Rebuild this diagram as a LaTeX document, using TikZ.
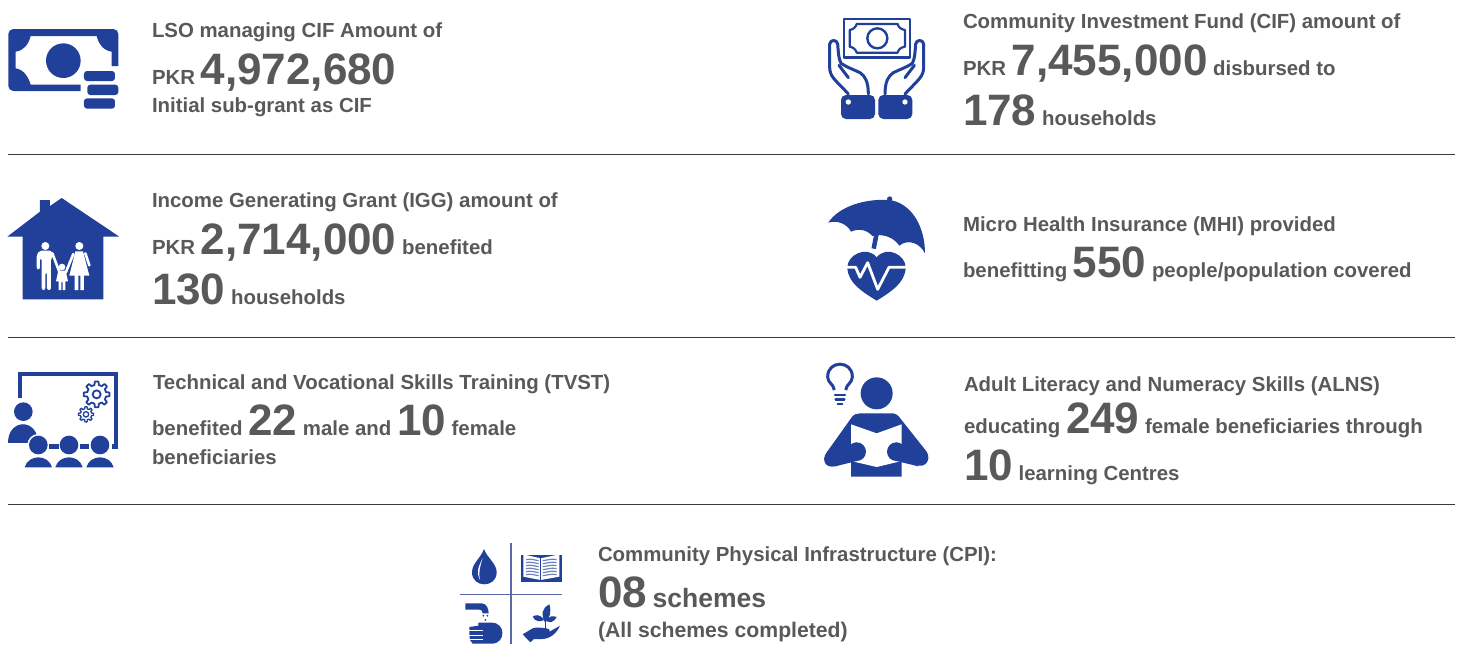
\documentclass[tikz,border=0pt]{standalone}
\usepackage{fontspec}
\setmainfont{Liberation Sans}[BoldFont={Liberation Sans Bold}]
\definecolor{iconblue}{HTML}{21409A}
\definecolor{txt}{HTML}{58595B}
\definecolor{rulegrey}{HTML}{3A3A3A}
\definecolor{gridblue}{HTML}{5A67A8}
\newcommand{\bg}[1]{{\fontsize{44}{45}\selectfont #1}}
\newcommand{\gearat}[6]{%
  \begin{scope}[shift={(#1,#2)}]
  \draw[iconblue,line width=#6,line join=round] (-13:#4) \foreach \a in {0,45,...,315}{ -- (\a-13:#4) -- (\a-8:#5) -- (\a+8:#5) -- (\a+13:#4)} -- cycle;
  \draw[iconblue,line width=#6] (0,0) circle[radius=#3];
  \end{scope}}
\tikzset{
  tl/.style={anchor=base west,inner sep=0pt,outer sep=0pt,text=txt,font=\bfseries\fontsize{20.4}{20}\selectfont},
  sep/.style={draw=rulegrey,line width=1pt},
  icon/.style 2 args={shift={(#1,#2)},x=.33333pt,y=-.33333pt},
  bl/.style={fill=iconblue,draw=none},
  wh/.style={fill=white,draw=none},
  ln/.style={draw=iconblue,line cap=round,line join=round},
  wl/.style={draw=white,line cap=round,line join=round},
}
\begin{document}
\begin{tikzpicture}[x=1pt,y=-1pt]
\path[use as bounding box,fill=white] (0,0) rectangle (1458,656);
% dividers
\draw[sep] (8,154.5) -- (1455,154.5);
\draw[sep] (8,337.5) -- (1455,337.5);
\draw[sep] (8,504) -- (1455,504);
% texts
\node[tl] (a1) at (152,37) {LSO managing CIF Amount of};
\node[tl] (a2) at (152,84) {PKR \bg{4,972,680}};
\node[tl] (a3) at (152,112) {Initial sub-grant as CIF};
\node[tl] (b1) at (963,28) {Community Investment Fund (CIF) amount of};
\node[tl] (b2) at (963,75) {PKR \bg{7,455,000} disbursed to};
\node[tl] (b3) at (963,125) {\bg{178} households};
\node[tl] (c1) at (152,207) {Income Generating Grant (IGG) amount of};
\node[tl] (c2) at (152,254) {PKR \bg{2,714,000} benefited};
\node[tl] (c3) at (152,304) {\bg{130} households};
\node[tl] (d1) at (963,231) {Micro Health Insurance (MHI) provided};
\node[tl] (d2) at (963,277) {benefitting \bg{550} people/population covered};
\node[tl] (e1) at (153,389) {Technical and Vocational Skills Training (TVST)};
\node[tl] (e2) at (152,435) {benefited \bg{22} male and \bg{10} female};
\node[tl] (e3) at (152,464) {beneficiaries};
\node[tl] (f1) at (964,391) {Adult Literacy and Numeracy Skills (ALNS)};
\node[tl] (f2) at (964,433) {educating \bg{249} female beneficiaries through};
\node[tl] (f3) at (964,480) {\bg{10} learning Centres};
\node[tl] (g1) at (598,561) {Community Physical Infrastructure (CPI):};
\node[tl] (g2) at (598,607) {\bg{08} {\fontsize{26.5}{26}\selectfont schemes}};
\node[tl] (g3) at (598,637) {\fontsize{21.2}{21}\selectfont (All schemes completed)};
% icon 1 money
\begin{scope}[icon={0}{10}]
\fill[bl] (40,57) -- (340,57) to[out=0,in=90] (355,72) -- (355,168) -- (335,168) -- (335,125)
  .. controls (310,122) and (295,100) .. (290,78) -- (92,78)
  .. controls (85,105) and (70,122) .. (47,125) -- (47,175)
  .. controls (70,178) and (85,200) .. (92,224) -- (242,224) -- (242,243) -- (40,243)
  to[out=180,in=-90] (25,228) -- (25,72) to[out=90,in=180] cycle;
\fill[bl] (190,152) circle[radius=52];
\fill[bl,rounded corners=3pt] (252,183) rectangle (345,213);
\fill[bl,rounded corners=3pt] (262,224) rectangle (355,255);
\fill[bl,rounded corners=3pt] (252,265) rectangle (345,296);
\end{scope}
% icon 2 hands
\begin{scope}[icon={815}{10}]
\draw[ln,line width=2.8pt] (87,27) rectangle (285,142);
\draw[ln,line width=2.2pt] (125,42) -- (248,42) .. controls (250,52) and (258,58) .. (270,60) -- (270,110) .. controls (258,112) and (250,118) .. (248,128) -- (125,128) .. controls (122,118) and (115,112) .. (104,110) -- (104,60) .. controls (115,58) and (122,52) .. (125,42) -- cycle;
\draw[ln,line width=2.4pt] (187,85) circle[radius=30];
\foreach \m/\s in {0/1,370/-1}{
\begin{scope}[shift={(\m,0)},xscale=\s]
\draw[ln,line width=3pt] (100,252) .. controls (85,235) and (70,222) .. (56,205) .. controls (48,195) and (44,185) .. (44,172) -- (44,102) .. controls (46,88) and (66,88) .. (68,102) .. controls (70,125) and (70,145) .. (78,160) .. controls (95,172) and (115,178) .. (135,188) .. controls (150,198) and (160,215) .. (160,252);
\draw[ln,line width=3pt] (72,166) -- (100,203);
\fill[bl,rounded corners=5pt] (78,255) rectangle (180,327);
\fill[wh] (100,276) circle[radius=8];
\end{scope}}
\end{scope}
% icon 3 house
\begin{scope}[icon={0}{190}]
\fill[bl] (22,140) -- (120,65) -- (120,30) -- (150,30) -- (150,48) -- (185,24) -- (358,140) -- (310,140) -- (310,328) -- (68,328) -- (68,140) -- cycle;
% man
\fill[wh] (136,168) circle[radius=12];
\fill[wh,rounded corners=2pt] (110,195) -- (118,182) -- (156,182) -- (160,195) -- (153,205) -- (153,300) -- (141,300) -- (141,248) -- (136,248) -- (136,300) -- (125,300) -- (125,205) -- (120,205) -- (120,238) -- (110,238) -- cycle;
\draw[wl,line width=2.6pt] (157,190) -- (179,248);
% woman
\fill[wh] (238,168) circle[radius=12];
\fill[wh] (226,184) -- (249,184) -- (268,257) -- (252,257) -- (252,300) -- (241,300) -- (241,257) -- (235,257) -- (235,300) -- (224,300) -- (224,257) -- (208,257) -- cycle;
\draw[wl,line width=2.6pt] (256,190) -- (268,226);
\draw[wl,line width=2.6pt] (220,192) -- (197,248);
% child
\fill[wh] (186,231) circle[radius=10];
\fill[wh] (175,242) -- (197,242) -- (204,274) -- (196,274) -- (196,300) -- (188,300) -- (188,276) -- (184,276) -- (184,300) -- (176,300) -- (176,274) -- (168,274) -- cycle;
\end{scope}
% icon 4 umbrella
\begin{scope}[icon={815}{190}]
\fill[bl] (224,27) circle[radius=8];
\fill[bl] (40,98) .. controls (70,50) and (150,25) .. (224,30) .. controls (290,40) and (330,110) .. (330,190)
  .. controls (315,160) and (280,145) .. (253,167)
  .. controls (235,140) and (200,130) .. (172,138)
  .. controls (155,118) and (130,115) .. (108,125)
  .. controls (95,100) and (65,90) .. (40,98) -- cycle;
\draw[ln,line width=4.5pt,line cap=butt] (186,125) -- (176,176);
\fill[bl] (185,332) .. controls (150,310) and (97,280) .. (97,232) .. controls (97,195) and (155,165) .. (185,202) .. controls (215,165) and (272,195) .. (272,232) .. controls (272,280) and (220,310) .. (185,332) -- cycle;
\draw[draw=white,line join=round,line width=2.8pt] (95,232) -- (122,232) -- (135,262) -- (158,218) -- (188,298) -- (222,232) -- (275,232);
\end{scope}
% icon 5 training
\begin{scope}[icon={0}{360}]
\draw[draw=iconblue,line width=4.3pt] (60,115) -- (60,42) -- (349,42) -- (349,267);
\fill[bl] (25,250) .. controls (25,175) and (115,175) .. (115,250) -- cycle;
\fill[bl] (70,155) circle[radius=28];
\fill[wh] (115,255) circle[radius=33];
\fill[bl] (147,252) rectangle (176,268);
\fill[bl] (240,252) rectangle (268,268);
\fill[wh] (300,255) circle[radius=33];
\fill[bl] (335,252) rectangle (345,268);
\foreach \c in {115,207,300}{
\fill[bl] (\c,255) circle[radius=28];
\fill[bl] (\c-41,322) .. controls (\c-30,282) and (\c+30,282) .. (\c+41,322) -- cycle;
}
\gearat{290}{103}{12}{29}{39}{1.8pt}
\gearat{258}{163}{8}{17}{23}{1.3pt}
\end{scope}
% icon 6 reader
\begin{scope}[icon={815}{355}]
\draw[ln,line width=3pt,line cap=butt] (58,105) .. controls (55,85) and (38,85) .. (38,65) .. controls (38,15) and (112,15) .. (112,65) .. controls (112,85) and (95,85) .. (92,105);
\draw[draw=iconblue,line width=2.4pt,line cap=round] (60,120) -- (90,120);
\draw[draw=iconblue,line width=2.4pt,line cap=round] (62,134) -- (88,134);
\draw[draw=iconblue,line width=2pt,line cap=round] (68,148) -- (82,148);
\fill[bl] (185,115) circle[radius=48];
\fill[bl] (135,175) -- (235,175) .. controls (250,178) and (255,190) .. (262,198) -- (335,290) .. controls (350,315) and (330,340) .. (305,330) -- (260,320) -- (260,365) -- (108,365) -- (108,320) -- (60,334) .. controls (30,340) and (20,315) .. (33,295) -- (108,190) .. controls (115,178) and (125,175) .. (135,175) -- cycle;
\fill[wh] (108,208) -- (185,235) -- (260,208) -- (260,318) -- (185,336) -- (108,318) -- cycle;
\fill[bl] (125,290) circle[radius=28];
\fill[bl] (244,290) circle[radius=28];
\fill[bl] (60,290) -- (125,262) -- (125,318) -- (60,334) -- cycle;
\fill[bl] (310,290) -- (244,262) -- (244,318) -- (310,334) -- cycle;
\end{scope}
% icon 7 infrastructure
\begin{scope}[icon={450}{535}]
\draw[draw=gridblue,line width=1.2pt] (183,25) -- (183,328);
\draw[draw=gridblue,line width=1.2pt] (30,179) -- (335,179);
\fill[bl] (102,42) .. controls (92,70) and (66,85) .. (66,112) .. controls (66,160) and (140,160) .. (140,112) .. controls (140,85) and (112,70) .. (102,42) -- cycle;
\fill[wh] (98,70) .. controls (85,95) and (78,110) .. (90,135) .. controls (85,110) and (90,95) .. (98,70) -- cycle;
\fill[bl] (212,60) rectangle (336,140);
\fill[wh] (220,58) -- (272,70) -- (328,58) -- (328,125) -- (272,135) -- (220,125) -- cycle;
\draw[draw=iconblue,line width=.7pt] (272,70) -- (272,135);
\foreach \yy in {74,83,92,101,110,119}{
\draw[draw=iconblue!65,line width=1.2pt] (228,\yy) .. controls (245,\yy-4) and (255,\yy+2) .. (266,\yy+3);
\draw[draw=iconblue!65,line width=1.2pt] (278,\yy+3) .. controls (290,\yy+2) and (305,\yy-4) .. (320,\yy);
}
\fill[bl] (46,205) -- (95,205) .. controls (110,205) and (116,222) .. (116,235) -- (98,235) .. controls (98,228) and (95,224) .. (88,224) -- (46,224) -- cycle;
\fill[bl] (100,242) circle[radius=3];
\fill[bl] (112,242) circle[radius=3];
\fill[bl] (106,255) circle[radius=3];
\fill[bl] (58,276) -- (85,272) -- (85,263) -- (125,263) .. controls (168,263) and (168,326) .. (125,326) -- (68,326) -- (60,315) -- (58,300) -- cycle;
\draw[draw=white,line width=.9pt] (55,287) -- (100,287);
\draw[draw=white,line width=.9pt] (55,301) -- (100,301);
\draw[draw=white,line width=.9pt] (58,314) -- (100,314);
\fill[bl] (218,298) -- (248,280) .. controls (260,276) and (270,278) .. (290,280) .. controls (302,282) and (302,292) .. (290,294) -- (272,294) -- (295,292) -- (330,272) .. controls (320,295) and (300,312) .. (275,312) -- (252,312) -- (241,322) -- cycle;
\fill[bl] (285,262) .. controls (272,240) and (275,220) .. (298,208) .. controls (305,230) and (300,250) .. (285,262) -- cycle;
\fill[bl] (282,255) .. controls (270,235) and (255,240) .. (248,245) .. controls (255,260) and (270,262) .. (282,255) -- cycle;
\fill[bl] (288,258) .. controls (295,242) and (310,242) .. (320,246) .. controls (312,262) and (300,264) .. (288,258) -- cycle;
\draw[draw=iconblue,line width=1pt] (285,255) -- (285,278);
\end{scope}
\end{tikzpicture}
\end{document}
